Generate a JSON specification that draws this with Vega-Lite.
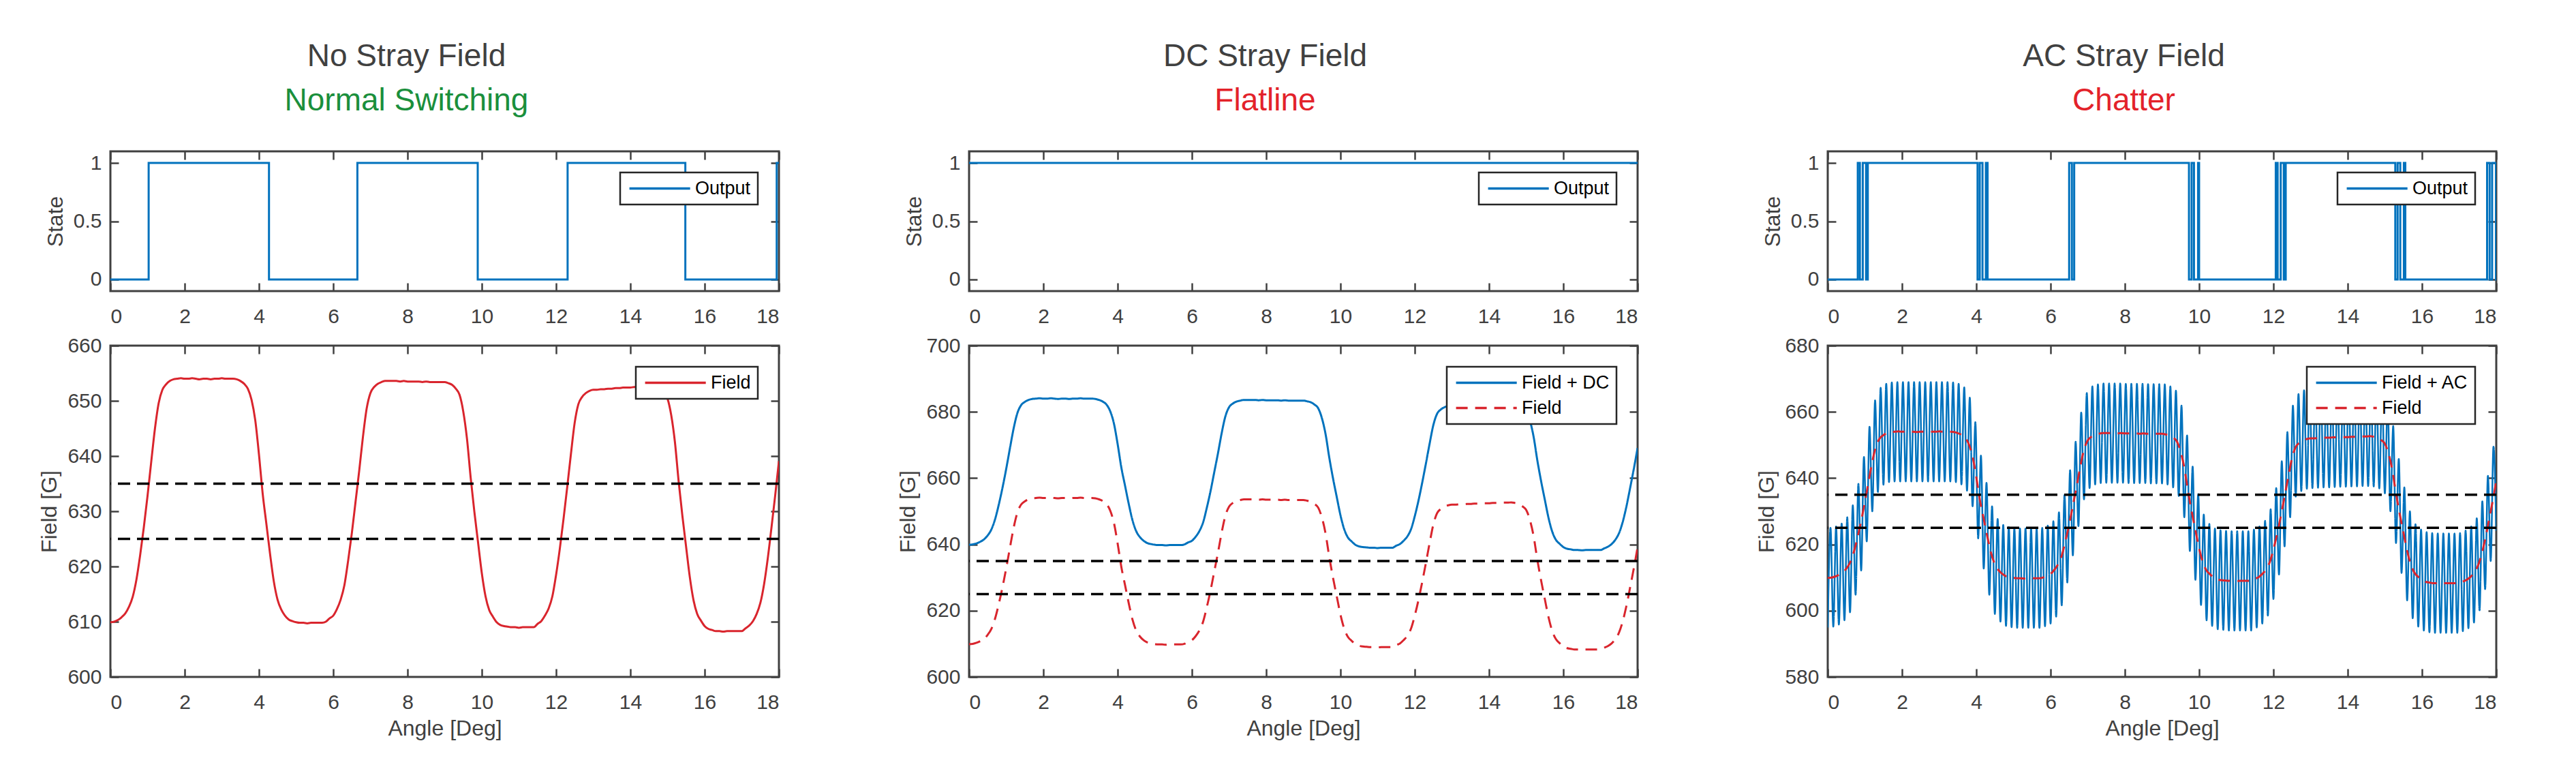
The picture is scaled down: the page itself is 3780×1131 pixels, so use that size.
{
  "$schema": "https://vega.github.io/schema/vega-lite/v6.json",
  "description": "Hall switch output and field vs angle for no, DC and AC stray field.",
  "background": "white",
  "padding": {"left": 55, "top": 58, "right": 10, "bottom": 10},
  "config": {
    "font": "Liberation Sans",
    "view": {"stroke": "#404040", "strokeWidth": 3},
    "axis": {
      "grid": false, "domain": false,
      "tickColor": "#404040", "tickWidth": 2.5, "tickSize": -12,
      "labelFont": "Liberation Sans", "labelFontSize": 30, "labelColor": "#404040",
      "titleFont": "Liberation Sans", "titleFontSize": 32, "titleFontWeight": "normal", "titleColor": "#404040"
    },
    "axisX": {"labelPadding": 34, "titlePadding": 8},
    "axisY": {"labelPadding": 25, "titlePadding": 9},
    "legend": {
      "orient": "top-right", "offset": 31, "padding": 10,
      "fillColor": "white", "strokeColor": "#262626", "strokeWidth": 2.5,
      "symbolType": "M-1,0H8", "symbolSize": 392, "symbolStrokeWidth": 3.5,
      "labelFont": "Liberation Sans", "labelFontSize": 27, "labelColor": "black",
      "labelOffset": 73, "rowPadding": 9, "labelLimit": 0
    },
    "title": {
      "font": "Liberation Sans", "fontSize": 46, "fontWeight": "normal", "color": "#404040",
      "subtitleFont": "Liberation Sans", "subtitleFontSize": 46, "subtitleFontWeight": "normal",
      "subtitlePadding": 19, "anchor": "middle", "frame": "group", "dx": -56, "offset": 49
    }
  },
  "datasets": {
    "thresholds": [{"t": 625}, {"t": 635}],
    "state1": [
      {"x": 0, "state": 0}, {"x": 1.03, "state": 1}, {"x": 4.27, "state": 0}, {"x": 6.65, "state": 1},
      {"x": 9.89, "state": 0}, {"x": 12.31, "state": 1}, {"x": 15.48, "state": 0}, {"x": 17.94, "state": 1},
      {"x": 18, "state": 1}
    ],
    "state2": [{"x": 0, "state": 1}, {"x": 18, "state": 1}],
    "state3": [
      {"x": 0, "state": 0}, {"x": 0.809, "state": 1}, {"x": 0.866, "state": 0}, {"x": 0.943, "state": 1},
      {"x": 1.032, "state": 0}, {"x": 1.079, "state": 1},
      {"x": 4.034, "state": 0}, {"x": 4.093, "state": 1}, {"x": 4.167, "state": 0}, {"x": 4.258, "state": 1},
      {"x": 4.304, "state": 0},
      {"x": 6.5, "state": 1}, {"x": 6.574, "state": 0}, {"x": 6.636, "state": 1},
      {"x": 9.726, "state": 0}, {"x": 9.798, "state": 1}, {"x": 9.861, "state": 0}, {"x": 9.971, "state": 1},
      {"x": 9.999, "state": 0},
      {"x": 12.063, "state": 1}, {"x": 12.114, "state": 0}, {"x": 12.196, "state": 1}, {"x": 12.279, "state": 0},
      {"x": 12.331, "state": 1},
      {"x": 15.281, "state": 0}, {"x": 15.344, "state": 1}, {"x": 15.415, "state": 0}, {"x": 15.512, "state": 1},
      {"x": 15.551, "state": 0},
      {"x": 17.753, "state": 1}, {"x": 17.821, "state": 0}, {"x": 17.888, "state": 1}, {"x": 17.992, "state": 0},
      {"x": 18, "state": 0}
    ],
    "field": [
      {"x": 0.0, "Field": 609.9, "Field + DC": 639.9}, {"x": 0.1, "Field": 610.0, "Field + DC": 640.0},
      {"x": 0.2, "Field": 610.3, "Field + DC": 640.3}, {"x": 0.3, "Field": 610.8, "Field + DC": 640.8},
      {"x": 0.4, "Field": 611.5, "Field + DC": 641.5}, {"x": 0.5, "Field": 612.7, "Field + DC": 642.7},
      {"x": 0.6, "Field": 614.5, "Field + DC": 644.5}, {"x": 0.7, "Field": 617.6, "Field + DC": 647.6},
      {"x": 0.8, "Field": 622.0, "Field + DC": 652.0}, {"x": 0.9, "Field": 627.1, "Field + DC": 657.1},
      {"x": 1.0, "Field": 632.8, "Field + DC": 662.8}, {"x": 1.1, "Field": 639.0, "Field + DC": 669.0},
      {"x": 1.2, "Field": 645.0, "Field + DC": 675.0}, {"x": 1.3, "Field": 649.6, "Field + DC": 679.6},
      {"x": 1.4, "Field": 652.0, "Field + DC": 682.0}, {"x": 1.5, "Field": 653.0, "Field + DC": 683.0},
      {"x": 1.6, "Field": 653.6, "Field + DC": 683.6}, {"x": 1.7, "Field": 653.9, "Field + DC": 683.9},
      {"x": 1.8, "Field": 654.0, "Field + DC": 684.0}, {"x": 1.9, "Field": 654.1, "Field + DC": 684.1},
      {"x": 2.0, "Field": 654.0, "Field + DC": 684.0}, {"x": 2.1, "Field": 654.0, "Field + DC": 684.0},
      {"x": 2.2, "Field": 654.1, "Field + DC": 684.1}, {"x": 2.3, "Field": 654.0, "Field + DC": 684.0},
      {"x": 2.4, "Field": 653.9, "Field + DC": 683.9}, {"x": 2.5, "Field": 654.0, "Field + DC": 684.0},
      {"x": 2.6, "Field": 654.0, "Field + DC": 684.0}, {"x": 2.7, "Field": 653.9, "Field + DC": 683.9},
      {"x": 2.8, "Field": 654.0, "Field + DC": 684.0}, {"x": 2.9, "Field": 654.0, "Field + DC": 684.0},
      {"x": 3.0, "Field": 654.1, "Field + DC": 684.1}, {"x": 3.1, "Field": 654.0, "Field + DC": 684.0},
      {"x": 3.2, "Field": 654.0, "Field + DC": 684.0}, {"x": 3.3, "Field": 654.0, "Field + DC": 684.0},
      {"x": 3.4, "Field": 653.9, "Field + DC": 683.9}, {"x": 3.5, "Field": 653.6, "Field + DC": 683.6},
      {"x": 3.6, "Field": 653.1, "Field + DC": 683.1}, {"x": 3.7, "Field": 652.2, "Field + DC": 682.2},
      {"x": 3.8, "Field": 650.2, "Field + DC": 680.2}, {"x": 3.9, "Field": 646.5, "Field + DC": 676.5},
      {"x": 4.0, "Field": 640.3, "Field + DC": 670.3}, {"x": 4.1, "Field": 633.2, "Field + DC": 663.2},
      {"x": 4.2, "Field": 627.7, "Field + DC": 657.7}, {"x": 4.3, "Field": 622.2, "Field + DC": 652.2},
      {"x": 4.4, "Field": 617.3, "Field + DC": 647.3}, {"x": 4.5, "Field": 614.0, "Field + DC": 644.0},
      {"x": 4.6, "Field": 612.2, "Field + DC": 642.2}, {"x": 4.7, "Field": 611.1, "Field + DC": 641.1},
      {"x": 4.8, "Field": 610.4, "Field + DC": 640.4}, {"x": 4.9, "Field": 610.1, "Field + DC": 640.1},
      {"x": 5.0, "Field": 609.9, "Field + DC": 639.9}, {"x": 5.1, "Field": 609.8, "Field + DC": 639.8},
      {"x": 5.2, "Field": 609.8, "Field + DC": 639.8}, {"x": 5.3, "Field": 609.7, "Field + DC": 639.7},
      {"x": 5.4, "Field": 609.8, "Field + DC": 639.8}, {"x": 5.5, "Field": 609.8, "Field + DC": 639.8},
      {"x": 5.6, "Field": 609.8, "Field + DC": 639.8}, {"x": 5.7, "Field": 609.8, "Field + DC": 639.8},
      {"x": 5.8, "Field": 610.0, "Field + DC": 640.0}, {"x": 5.9, "Field": 610.6, "Field + DC": 640.6},
      {"x": 6.0, "Field": 611.1, "Field + DC": 641.1}, {"x": 6.1, "Field": 612.3, "Field + DC": 642.3},
      {"x": 6.2, "Field": 614.0, "Field + DC": 644.0}, {"x": 6.3, "Field": 616.6, "Field + DC": 646.6},
      {"x": 6.4, "Field": 621.0, "Field + DC": 651.0}, {"x": 6.5, "Field": 626.0, "Field + DC": 656.0},
      {"x": 6.6, "Field": 631.7, "Field + DC": 661.7}, {"x": 6.7, "Field": 637.4, "Field + DC": 667.4},
      {"x": 6.8, "Field": 643.5, "Field + DC": 673.5}, {"x": 6.9, "Field": 648.6, "Field + DC": 678.6},
      {"x": 7.0, "Field": 651.4, "Field + DC": 681.4}, {"x": 7.1, "Field": 652.5, "Field + DC": 682.5},
      {"x": 7.2, "Field": 653.1, "Field + DC": 683.1}, {"x": 7.3, "Field": 653.4, "Field + DC": 683.4},
      {"x": 7.4, "Field": 653.6, "Field + DC": 683.6}, {"x": 7.5, "Field": 653.6, "Field + DC": 683.6},
      {"x": 7.6, "Field": 653.6, "Field + DC": 683.6}, {"x": 7.7, "Field": 653.6, "Field + DC": 683.6},
      {"x": 7.8, "Field": 653.5, "Field + DC": 683.5}, {"x": 7.9, "Field": 653.6, "Field + DC": 683.6},
      {"x": 8.0, "Field": 653.5, "Field + DC": 683.5}, {"x": 8.1, "Field": 653.5, "Field + DC": 683.5},
      {"x": 8.2, "Field": 653.5, "Field + DC": 683.5}, {"x": 8.3, "Field": 653.5, "Field + DC": 683.5},
      {"x": 8.4, "Field": 653.4, "Field + DC": 683.4}, {"x": 8.5, "Field": 653.5, "Field + DC": 683.5},
      {"x": 8.6, "Field": 653.4, "Field + DC": 683.4}, {"x": 8.7, "Field": 653.4, "Field + DC": 683.4},
      {"x": 8.8, "Field": 653.4, "Field + DC": 683.4}, {"x": 8.9, "Field": 653.4, "Field + DC": 683.4},
      {"x": 9.0, "Field": 653.4, "Field + DC": 683.4}, {"x": 9.1, "Field": 653.2, "Field + DC": 683.2},
      {"x": 9.2, "Field": 652.9, "Field + DC": 682.9}, {"x": 9.3, "Field": 652.2, "Field + DC": 682.2},
      {"x": 9.4, "Field": 651.1, "Field + DC": 681.1}, {"x": 9.5, "Field": 648.1, "Field + DC": 678.1},
      {"x": 9.6, "Field": 643.2, "Field + DC": 673.2}, {"x": 9.7, "Field": 636.1, "Field + DC": 666.1},
      {"x": 9.8, "Field": 629.9, "Field + DC": 659.9}, {"x": 9.9, "Field": 624.3, "Field + DC": 654.3},
      {"x": 10.0, "Field": 618.8, "Field + DC": 648.8}, {"x": 10.1, "Field": 614.6, "Field + DC": 644.6},
      {"x": 10.2, "Field": 612.1, "Field + DC": 642.1}, {"x": 10.3, "Field": 610.9, "Field + DC": 640.9},
      {"x": 10.4, "Field": 609.9, "Field + DC": 639.9}, {"x": 10.5, "Field": 609.4, "Field + DC": 639.4},
      {"x": 10.6, "Field": 609.2, "Field + DC": 639.2}, {"x": 10.7, "Field": 609.1, "Field + DC": 639.1},
      {"x": 10.8, "Field": 609.0, "Field + DC": 639.0}, {"x": 10.9, "Field": 609.0, "Field + DC": 639.0},
      {"x": 11.0, "Field": 608.9, "Field + DC": 638.9}, {"x": 11.1, "Field": 609.0, "Field + DC": 639.0},
      {"x": 11.2, "Field": 609.0, "Field + DC": 639.0}, {"x": 11.3, "Field": 609.0, "Field + DC": 639.0},
      {"x": 11.4, "Field": 609.0, "Field + DC": 639.0}, {"x": 11.5, "Field": 609.6, "Field + DC": 639.6},
      {"x": 11.6, "Field": 610.1, "Field + DC": 640.1}, {"x": 11.7, "Field": 611.1, "Field + DC": 641.1},
      {"x": 11.8, "Field": 612.4, "Field + DC": 642.4}, {"x": 11.9, "Field": 614.6, "Field + DC": 644.6},
      {"x": 12.0, "Field": 618.5, "Field + DC": 648.5}, {"x": 12.1, "Field": 623.2, "Field + DC": 653.2},
      {"x": 12.2, "Field": 628.6, "Field + DC": 658.6}, {"x": 12.3, "Field": 634.4, "Field + DC": 664.4},
      {"x": 12.4, "Field": 640.4, "Field + DC": 670.4}, {"x": 12.5, "Field": 646.0, "Field + DC": 676.0},
      {"x": 12.6, "Field": 649.4, "Field + DC": 679.4}, {"x": 12.7, "Field": 650.7, "Field + DC": 680.7},
      {"x": 12.8, "Field": 651.4, "Field + DC": 681.4}, {"x": 12.9, "Field": 651.8, "Field + DC": 681.8},
      {"x": 13.0, "Field": 652.0, "Field + DC": 682.0}, {"x": 13.1, "Field": 652.0, "Field + DC": 682.0},
      {"x": 13.2, "Field": 652.1, "Field + DC": 682.1}, {"x": 13.3, "Field": 652.1, "Field + DC": 682.1},
      {"x": 13.4, "Field": 652.2, "Field + DC": 682.2}, {"x": 13.5, "Field": 652.2, "Field + DC": 682.2},
      {"x": 13.6, "Field": 652.3, "Field + DC": 682.3}, {"x": 13.7, "Field": 652.3, "Field + DC": 682.3},
      {"x": 13.8, "Field": 652.4, "Field + DC": 682.4}, {"x": 13.9, "Field": 652.4, "Field + DC": 682.4},
      {"x": 14.0, "Field": 652.4, "Field + DC": 682.4}, {"x": 14.1, "Field": 652.5, "Field + DC": 682.5},
      {"x": 14.2, "Field": 652.5, "Field + DC": 682.5}, {"x": 14.3, "Field": 652.6, "Field + DC": 682.6},
      {"x": 14.4, "Field": 652.6, "Field + DC": 682.6}, {"x": 14.5, "Field": 652.6, "Field + DC": 682.6},
      {"x": 14.6, "Field": 652.7, "Field + DC": 682.7}, {"x": 14.7, "Field": 652.5, "Field + DC": 682.5},
      {"x": 14.8, "Field": 652.2, "Field + DC": 682.2}, {"x": 14.9, "Field": 651.5, "Field + DC": 681.5},
      {"x": 15.0, "Field": 650.4, "Field + DC": 680.4}, {"x": 15.1, "Field": 647.4, "Field + DC": 677.4},
      {"x": 15.2, "Field": 642.5, "Field + DC": 672.5}, {"x": 15.3, "Field": 635.4, "Field + DC": 665.4},
      {"x": 15.4, "Field": 629.2, "Field + DC": 659.2}, {"x": 15.5, "Field": 623.6, "Field + DC": 653.6},
      {"x": 15.6, "Field": 618.1, "Field + DC": 648.1}, {"x": 15.7, "Field": 613.9, "Field + DC": 643.9},
      {"x": 15.8, "Field": 611.4, "Field + DC": 641.4}, {"x": 15.9, "Field": 610.2, "Field + DC": 640.2},
      {"x": 16.0, "Field": 609.2, "Field + DC": 639.2}, {"x": 16.1, "Field": 608.7, "Field + DC": 638.7},
      {"x": 16.2, "Field": 608.5, "Field + DC": 638.5}, {"x": 16.3, "Field": 608.3, "Field + DC": 638.3},
      {"x": 16.4, "Field": 608.3, "Field + DC": 638.3}, {"x": 16.5, "Field": 608.2, "Field + DC": 638.2},
      {"x": 16.6, "Field": 608.3, "Field + DC": 638.3}, {"x": 16.7, "Field": 608.3, "Field + DC": 638.3},
      {"x": 16.8, "Field": 608.3, "Field + DC": 638.3}, {"x": 16.9, "Field": 608.3, "Field + DC": 638.3},
      {"x": 17.0, "Field": 608.3, "Field + DC": 638.3}, {"x": 17.1, "Field": 608.8, "Field + DC": 638.8},
      {"x": 17.2, "Field": 609.3, "Field + DC": 639.3}, {"x": 17.3, "Field": 610.1, "Field + DC": 640.1},
      {"x": 17.4, "Field": 611.4, "Field + DC": 641.4}, {"x": 17.5, "Field": 613.4, "Field + DC": 643.4},
      {"x": 17.6, "Field": 616.8, "Field + DC": 646.8}, {"x": 17.7, "Field": 621.5, "Field + DC": 651.5},
      {"x": 17.8, "Field": 627.1, "Field + DC": 657.1}, {"x": 17.9, "Field": 632.9, "Field + DC": 662.9},
      {"x": 18.0, "Field": 639.1, "Field + DC": 669.1}
    ],
    "ac": [
      {"x": 0, "Field + AC": 594.9}, {"x": 0.075, "Field + AC": 625.0}, {"x": 0.15, "Field + AC": 595.2}, {"x": 0.225, "Field + AC": 625.4},
      {"x": 0.3, "Field + AC": 595.8}, {"x": 0.375, "Field + AC": 626.3}, {"x": 0.45, "Field + AC": 597.1}, {"x": 0.525, "Field + AC": 628.2},
      {"x": 0.6, "Field + AC": 599.5}, {"x": 0.675, "Field + AC": 631.8}, {"x": 0.75, "Field + AC": 604.8}, {"x": 0.825, "Field + AC": 638.3},
      {"x": 0.9, "Field + AC": 612.1}, {"x": 0.975, "Field + AC": 646.4}, {"x": 1.05, "Field + AC": 620.9}, {"x": 1.125, "Field + AC": 655.5},
      {"x": 1.2, "Field + AC": 630.0}, {"x": 1.275, "Field + AC": 663.5}, {"x": 1.35, "Field + AC": 635.8}, {"x": 1.425, "Field + AC": 667.3},
      {"x": 1.5, "Field + AC": 638.0}, {"x": 1.575, "Field + AC": 668.5}, {"x": 1.65, "Field + AC": 638.8}, {"x": 1.725, "Field + AC": 668.9},
      {"x": 1.8, "Field + AC": 639.0}, {"x": 1.875, "Field + AC": 669.0}, {"x": 1.95, "Field + AC": 639.0}, {"x": 2.025, "Field + AC": 669.0},
      {"x": 2.1, "Field + AC": 639.0}, {"x": 2.175, "Field + AC": 669.0}, {"x": 2.25, "Field + AC": 639.0}, {"x": 2.325, "Field + AC": 669.0},
      {"x": 2.4, "Field + AC": 639.0}, {"x": 2.475, "Field + AC": 669.0}, {"x": 2.55, "Field + AC": 639.0}, {"x": 2.625, "Field + AC": 669.0},
      {"x": 2.7, "Field + AC": 639.0}, {"x": 2.775, "Field + AC": 669.0}, {"x": 2.85, "Field + AC": 639.0}, {"x": 2.925, "Field + AC": 669.0},
      {"x": 3.0, "Field + AC": 639.0}, {"x": 3.075, "Field + AC": 669.0}, {"x": 3.15, "Field + AC": 639.0}, {"x": 3.225, "Field + AC": 669.0},
      {"x": 3.3, "Field + AC": 639.0}, {"x": 3.375, "Field + AC": 668.9}, {"x": 3.45, "Field + AC": 638.8}, {"x": 3.525, "Field + AC": 668.5},
      {"x": 3.6, "Field + AC": 638.1}, {"x": 3.675, "Field + AC": 667.4}, {"x": 3.75, "Field + AC": 636.2}, {"x": 3.825, "Field + AC": 664.3},
      {"x": 3.9, "Field + AC": 631.5}, {"x": 3.975, "Field + AC": 656.9}, {"x": 4.05, "Field + AC": 621.8}, {"x": 4.125, "Field + AC": 646.8},
      {"x": 4.2, "Field + AC": 612.7}, {"x": 4.275, "Field + AC": 638.6}, {"x": 4.35, "Field + AC": 604.8}, {"x": 4.425, "Field + AC": 631.5},
      {"x": 4.5, "Field + AC": 599.0}, {"x": 4.575, "Field + AC": 627.7}, {"x": 4.65, "Field + AC": 596.7}, {"x": 4.725, "Field + AC": 625.9},
      {"x": 4.8, "Field + AC": 595.4}, {"x": 4.875, "Field + AC": 625.2}, {"x": 4.95, "Field + AC": 595.0}, {"x": 5.025, "Field + AC": 624.9},
      {"x": 5.1, "Field + AC": 594.8}, {"x": 5.175, "Field + AC": 624.8}, {"x": 5.25, "Field + AC": 594.8}, {"x": 5.325, "Field + AC": 624.8},
      {"x": 5.4, "Field + AC": 594.8}, {"x": 5.475, "Field + AC": 624.8}, {"x": 5.55, "Field + AC": 594.8}, {"x": 5.625, "Field + AC": 624.8},
      {"x": 5.7, "Field + AC": 594.8}, {"x": 5.775, "Field + AC": 625.0}, {"x": 5.85, "Field + AC": 595.3}, {"x": 5.925, "Field + AC": 625.7},
      {"x": 6.0, "Field + AC": 596.1}, {"x": 6.075, "Field + AC": 627.0}, {"x": 6.15, "Field + AC": 598.2}, {"x": 6.225, "Field + AC": 629.7},
      {"x": 6.3, "Field + AC": 601.6}, {"x": 6.375, "Field + AC": 634.9}, {"x": 6.45, "Field + AC": 608.5}, {"x": 6.525, "Field + AC": 642.4},
      {"x": 6.6, "Field + AC": 616.7}, {"x": 6.675, "Field + AC": 651.0}, {"x": 6.75, "Field + AC": 625.5}, {"x": 6.825, "Field + AC": 659.8},
      {"x": 6.9, "Field + AC": 633.6}, {"x": 6.975, "Field + AC": 665.7}, {"x": 7.05, "Field + AC": 637.0}, {"x": 7.125, "Field + AC": 667.7},
      {"x": 7.2, "Field + AC": 638.1}, {"x": 7.275, "Field + AC": 668.3}, {"x": 7.35, "Field + AC": 638.5}, {"x": 7.425, "Field + AC": 668.6},
      {"x": 7.5, "Field + AC": 638.6}, {"x": 7.575, "Field + AC": 668.6}, {"x": 7.65, "Field + AC": 638.6}, {"x": 7.725, "Field + AC": 668.6},
      {"x": 7.8, "Field + AC": 638.6}, {"x": 7.875, "Field + AC": 668.6}, {"x": 7.95, "Field + AC": 638.6}, {"x": 8.025, "Field + AC": 668.5},
      {"x": 8.1, "Field + AC": 638.5}, {"x": 8.175, "Field + AC": 668.5}, {"x": 8.25, "Field + AC": 638.5}, {"x": 8.325, "Field + AC": 668.5},
      {"x": 8.4, "Field + AC": 638.5}, {"x": 8.475, "Field + AC": 668.5}, {"x": 8.55, "Field + AC": 638.5}, {"x": 8.625, "Field + AC": 668.4},
      {"x": 8.7, "Field + AC": 638.4}, {"x": 8.775, "Field + AC": 668.4}, {"x": 8.85, "Field + AC": 638.4}, {"x": 8.925, "Field + AC": 668.4},
      {"x": 9.0, "Field + AC": 638.4}, {"x": 9.075, "Field + AC": 668.3}, {"x": 9.15, "Field + AC": 638.1}, {"x": 9.225, "Field + AC": 667.7},
      {"x": 9.3, "Field + AC": 637.2}, {"x": 9.375, "Field + AC": 666.4}, {"x": 9.45, "Field + AC": 634.6}, {"x": 9.525, "Field + AC": 661.9},
      {"x": 9.6, "Field + AC": 628.2}, {"x": 9.675, "Field + AC": 652.9}, {"x": 9.75, "Field + AC": 618.0}, {"x": 9.825, "Field + AC": 643.5},
      {"x": 9.9, "Field + AC": 609.3}, {"x": 9.975, "Field + AC": 635.2}, {"x": 10.05, "Field + AC": 601.7}, {"x": 10.125, "Field + AC": 629.0},
      {"x": 10.2, "Field + AC": 597.1}, {"x": 10.275, "Field + AC": 626.2}, {"x": 10.35, "Field + AC": 595.4}, {"x": 10.425, "Field + AC": 624.8},
      {"x": 10.5, "Field + AC": 594.4}, {"x": 10.575, "Field + AC": 624.3}, {"x": 10.65, "Field + AC": 594.2}, {"x": 10.725, "Field + AC": 624.1},
      {"x": 10.8, "Field + AC": 594.0}, {"x": 10.875, "Field + AC": 624.0}, {"x": 10.95, "Field + AC": 594.0}, {"x": 11.025, "Field + AC": 624.0},
      {"x": 11.1, "Field + AC": 594.0}, {"x": 11.175, "Field + AC": 624.0}, {"x": 11.25, "Field + AC": 594.0}, {"x": 11.325, "Field + AC": 624.0},
      {"x": 11.4, "Field + AC": 594.0}, {"x": 11.475, "Field + AC": 624.5}, {"x": 11.55, "Field + AC": 594.9}, {"x": 11.625, "Field + AC": 625.4},
      {"x": 11.7, "Field + AC": 596.1}, {"x": 11.775, "Field + AC": 627.1}, {"x": 11.85, "Field + AC": 598.5}, {"x": 11.925, "Field + AC": 630.6},
      {"x": 12.0, "Field + AC": 603.5}, {"x": 12.075, "Field + AC": 637.0}, {"x": 12.15, "Field + AC": 610.9}, {"x": 12.225, "Field + AC": 645.1},
      {"x": 12.3, "Field + AC": 619.4}, {"x": 12.375, "Field + AC": 653.9}, {"x": 12.45, "Field + AC": 628.2}, {"x": 12.525, "Field + AC": 661.9},
      {"x": 12.6, "Field + AC": 634.4}, {"x": 12.675, "Field + AC": 665.4}, {"x": 12.75, "Field + AC": 636.1}, {"x": 12.825, "Field + AC": 666.5},
      {"x": 12.9, "Field + AC": 636.8}, {"x": 12.975, "Field + AC": 667.0}, {"x": 13.05, "Field + AC": 637.0}, {"x": 13.125, "Field + AC": 667.1},
      {"x": 13.2, "Field + AC": 637.1}, {"x": 13.275, "Field + AC": 667.1}, {"x": 13.35, "Field + AC": 637.2}, {"x": 13.425, "Field + AC": 667.2},
      {"x": 13.5, "Field + AC": 637.2}, {"x": 13.575, "Field + AC": 667.3}, {"x": 13.65, "Field + AC": 637.3}, {"x": 13.725, "Field + AC": 667.3},
      {"x": 13.8, "Field + AC": 637.4}, {"x": 13.875, "Field + AC": 667.4}, {"x": 13.95, "Field + AC": 637.4}, {"x": 14.025, "Field + AC": 667.4},
      {"x": 14.1, "Field + AC": 637.5}, {"x": 14.175, "Field + AC": 667.5}, {"x": 14.25, "Field + AC": 637.5}, {"x": 14.325, "Field + AC": 667.6},
      {"x": 14.4, "Field + AC": 637.6}, {"x": 14.475, "Field + AC": 667.6}, {"x": 14.55, "Field + AC": 637.6}, {"x": 14.625, "Field + AC": 667.6},
      {"x": 14.7, "Field + AC": 637.5}, {"x": 14.775, "Field + AC": 667.3}, {"x": 14.85, "Field + AC": 636.9}, {"x": 14.925, "Field + AC": 666.2},
      {"x": 15.0, "Field + AC": 635.4}, {"x": 15.075, "Field + AC": 663.2}, {"x": 15.15, "Field + AC": 630.0}, {"x": 15.225, "Field + AC": 655.7},
      {"x": 15.3, "Field + AC": 620.4}, {"x": 15.375, "Field + AC": 645.8}, {"x": 15.45, "Field + AC": 611.4}, {"x": 15.525, "Field + AC": 637.2},
      {"x": 15.6, "Field + AC": 603.1}, {"x": 15.675, "Field + AC": 630.0}, {"x": 15.75, "Field + AC": 597.7}, {"x": 15.825, "Field + AC": 626.1},
      {"x": 15.9, "Field + AC": 595.2}, {"x": 15.975, "Field + AC": 624.5}, {"x": 16.05, "Field + AC": 594.0}, {"x": 16.125, "Field + AC": 623.7},
      {"x": 16.2, "Field + AC": 593.5}, {"x": 16.275, "Field + AC": 623.4}, {"x": 16.35, "Field + AC": 593.3}, {"x": 16.425, "Field + AC": 623.3},
      {"x": 16.5, "Field + AC": 593.3}, {"x": 16.575, "Field + AC": 623.3}, {"x": 16.65, "Field + AC": 593.3}, {"x": 16.725, "Field + AC": 623.3},
      {"x": 16.8, "Field + AC": 593.3}, {"x": 16.875, "Field + AC": 623.3}, {"x": 16.95, "Field + AC": 593.3}, {"x": 17.025, "Field + AC": 623.4},
      {"x": 17.1, "Field + AC": 593.8}, {"x": 17.175, "Field + AC": 624.2}, {"x": 17.25, "Field + AC": 594.7}, {"x": 17.325, "Field + AC": 625.4},
      {"x": 17.4, "Field + AC": 596.4}, {"x": 17.475, "Field + AC": 627.9}, {"x": 17.55, "Field + AC": 600.1}, {"x": 17.625, "Field + AC": 633.0},
      {"x": 17.7, "Field + AC": 606.5}, {"x": 17.775, "Field + AC": 640.7}, {"x": 17.85, "Field + AC": 615.0}, {"x": 17.925, "Field + AC": 649.5},
      {"x": 18.0, "Field + AC": 624.1}
    ]
  },
  "concat": [
    {
      "width": 981, "height": 205,
      "title": {"text": "No Stray Field", "subtitle": "Normal Switching", "subtitleColor": "#1a8f3c"},
      "data": {"name": "state1"},
      "layer": [
        {
          "mark": {"type": "line", "interpolate": "step-after", "strokeWidth": 3, "clip": true},
          "encoding": {
            "x": {"field": "x", "type": "quantitative", "scale": {"domain": [0, 18], "nice": false, "zero": false}, "axis": {"values": [0, 2, 4, 6, 8, 10, 12, 14, 16, 18], "title": null}},
            "y": {"field": "state", "type": "quantitative", "scale": {"domain": [-0.1, 1.1], "nice": false, "zero": false}, "axis": {"values": [0, 0.5, 1], "format": "~g", "title": "State"}},
            "color": {"datum": "Output", "scale": {"range": ["#0072BD"]}, "legend": {"title": null}}
          }
        },
        {
          "mark": {"type": "point", "opacity": 0},
          "encoding": {
            "x": {"datum": 9, "type": "quantitative", "axis": {"orient": "top", "values": [0, 2, 4, 6, 8, 10, 12, 14, 16, 18], "labels": false, "title": null}},
            "y": {"datum": 0.5, "type": "quantitative", "axis": {"orient": "right", "values": [0, 0.5, 1], "labels": false, "title": null}}
          }
        }
      ],
      "resolve": {"axis": {"x": "independent", "y": "independent"}}
    },
    {
      "width": 981, "height": 205,
      "title": {"text": "DC Stray Field", "subtitle": "Flatline", "subtitleColor": "#e3222a"},
      "data": {"name": "state2"},
      "layer": [
        {
          "mark": {"type": "line", "interpolate": "step-after", "strokeWidth": 3, "clip": true},
          "encoding": {
            "x": {"field": "x", "type": "quantitative", "scale": {"domain": [0, 18], "nice": false, "zero": false}, "axis": {"values": [0, 2, 4, 6, 8, 10, 12, 14, 16, 18], "title": null}},
            "y": {"field": "state", "type": "quantitative", "scale": {"domain": [-0.1, 1.1], "nice": false, "zero": false}, "axis": {"values": [0, 0.5, 1], "format": "~g", "title": "State"}},
            "color": {"datum": "Output", "scale": {"range": ["#0072BD"]}, "legend": {"title": null}}
          }
        },
        {
          "mark": {"type": "point", "opacity": 0},
          "encoding": {
            "x": {"datum": 9, "type": "quantitative", "axis": {"orient": "top", "values": [0, 2, 4, 6, 8, 10, 12, 14, 16, 18], "labels": false, "title": null}},
            "y": {"datum": 0.5, "type": "quantitative", "axis": {"orient": "right", "values": [0, 0.5, 1], "labels": false, "title": null}}
          }
        }
      ],
      "resolve": {"axis": {"x": "independent", "y": "independent"}}
    },
    {
      "width": 981, "height": 205,
      "title": {"text": "AC Stray Field", "subtitle": "Chatter", "subtitleColor": "#e3222a"},
      "data": {"name": "state3"},
      "layer": [
        {
          "mark": {"type": "line", "interpolate": "step-after", "strokeWidth": 3, "clip": true},
          "encoding": {
            "x": {"field": "x", "type": "quantitative", "scale": {"domain": [0, 18], "nice": false, "zero": false}, "axis": {"values": [0, 2, 4, 6, 8, 10, 12, 14, 16, 18], "title": null}},
            "y": {"field": "state", "type": "quantitative", "scale": {"domain": [-0.1, 1.1], "nice": false, "zero": false}, "axis": {"values": [0, 0.5, 1], "format": "~g", "title": "State"}},
            "color": {"datum": "Output", "scale": {"range": ["#0072BD"]}, "legend": {"title": null}}
          }
        },
        {
          "mark": {"type": "point", "opacity": 0},
          "encoding": {
            "x": {"datum": 9, "type": "quantitative", "axis": {"orient": "top", "values": [0, 2, 4, 6, 8, 10, 12, 14, 16, 18], "labels": false, "title": null}},
            "y": {"datum": 0.5, "type": "quantitative", "axis": {"orient": "right", "values": [0, 0.5, 1], "labels": false, "title": null}}
          }
        }
      ],
      "resolve": {"axis": {"x": "independent", "y": "independent"}}
    },
    {
      "width": 981, "height": 486,
      "layer": [
        {
          "data": {"name": "field"},
          "mark": {"type": "line", "interpolate": "monotone", "strokeWidth": 3, "clip": true},
          "encoding": {
            "x": {"field": "x", "type": "quantitative", "scale": {"domain": [0, 18], "nice": false, "zero": false}, "axis": {"values": [0, 2, 4, 6, 8, 10, 12, 14, 16, 18], "title": "Angle [Deg]"}},
            "y": {"field": "Field", "type": "quantitative", "scale": {"domain": [600, 660], "nice": false, "zero": false}, "axis": {"values": [600, 610, 620, 630, 640, 650, 660], "title": "Field [G]"}},
            "color": {"datum": "Field", "scale": {"range": ["#d9252d"]}, "legend": {"title": null}}
          }
        },
        {
          "data": {"name": "thresholds"},
          "mark": {"type": "rule", "strokeDash": [18, 10], "strokeWidth": 3.5, "color": "black"},
          "encoding": {"y": {"field": "t", "type": "quantitative", "axis": null}}
        },
        {
          "data": {"name": "thresholds"},
          "mark": {"type": "point", "opacity": 0},
          "encoding": {
            "x": {"datum": 9, "type": "quantitative", "axis": {"orient": "top", "values": [0, 2, 4, 6, 8, 10, 12, 14, 16, 18], "labels": false, "title": null}},
            "y": {"datum": 630, "type": "quantitative", "axis": {"orient": "right", "values": [600, 610, 620, 630, 640, 650, 660], "labels": false, "title": null}}
          }
        }
      ],
      "resolve": {"axis": {"x": "independent", "y": "independent"}}
    },
    {
      "width": 981, "height": 486,
      "layer": [
        {
          "data": {"name": "field"},
          "transform": [{"fold": ["Field + DC", "Field"], "as": ["series", "value"]}],
          "mark": {"type": "line", "interpolate": "monotone", "strokeWidth": 3, "clip": true},
          "encoding": {
            "x": {"field": "x", "type": "quantitative", "scale": {"domain": [0, 18], "nice": false, "zero": false}, "axis": {"values": [0, 2, 4, 6, 8, 10, 12, 14, 16, 18], "title": "Angle [Deg]"}},
            "y": {"field": "value", "type": "quantitative", "scale": {"domain": [600, 700], "nice": false, "zero": false}, "axis": {"values": [600, 620, 640, 660, 680, 700], "title": "Field [G]"}},
            "color": {"field": "series", "type": "nominal", "scale": {"domain": ["Field + DC", "Field"], "range": ["#0072BD", "#d9252d"]}, "legend": {"title": null}},
            "strokeDash": {"field": "series", "type": "nominal", "scale": {"domain": ["Field + DC", "Field"], "range": [[1, 0], [17, 11]]}, "legend": {"title": null}}
          }
        },
        {
          "data": {"name": "thresholds"},
          "mark": {"type": "rule", "strokeDash": [18, 10], "strokeWidth": 3.5, "color": "black"},
          "encoding": {"y": {"field": "t", "type": "quantitative", "axis": null}}
        },
        {
          "data": {"name": "thresholds"},
          "mark": {"type": "point", "opacity": 0},
          "encoding": {
            "x": {"datum": 9, "type": "quantitative", "axis": {"orient": "top", "values": [0, 2, 4, 6, 8, 10, 12, 14, 16, 18], "labels": false, "title": null}},
            "y": {"datum": 650, "type": "quantitative", "axis": {"orient": "right", "values": [600, 620, 640, 660, 680, 700], "labels": false, "title": null}}
          }
        }
      ],
      "resolve": {"axis": {"x": "independent", "y": "independent"}}
    },
    {
      "width": 981, "height": 486,
      "layer": [
        {
          "data": {"name": "ac"},
          "transform": [{"fold": ["Field + AC"], "as": ["series", "value"]}],
          "mark": {"type": "line", "interpolate": "monotone", "strokeWidth": 2.5, "clip": true},
          "encoding": {
            "x": {"field": "x", "type": "quantitative", "scale": {"domain": [0, 18], "nice": false, "zero": false}, "axis": {"values": [0, 2, 4, 6, 8, 10, 12, 14, 16, 18], "title": "Angle [Deg]"}},
            "y": {"field": "value", "type": "quantitative", "scale": {"domain": [580, 680], "nice": false, "zero": false}, "axis": {"values": [580, 600, 620, 640, 660, 680], "title": "Field [G]"}},
            "color": {"field": "series", "type": "nominal", "scale": {"domain": ["Field + AC", "Field"], "range": ["#0072BD", "#d9252d"]}, "legend": {"title": null}},
            "strokeDash": {"field": "series", "type": "nominal", "scale": {"domain": ["Field + AC", "Field"], "range": [[1, 0], [17, 11]]}, "legend": {"title": null}}
          }
        },
        {
          "data": {"name": "field"},
          "transform": [{"fold": ["Field"], "as": ["series", "value"]}],
          "mark": {"type": "line", "interpolate": "monotone", "strokeWidth": 3, "clip": true},
          "encoding": {
            "x": {"field": "x", "type": "quantitative", "axis": null},
            "y": {"field": "value", "type": "quantitative", "axis": null},
            "color": {"field": "series", "type": "nominal", "legend": {"title": null}},
            "strokeDash": {"field": "series", "type": "nominal", "legend": {"title": null}}
          }
        },
        {
          "data": {"name": "thresholds"},
          "mark": {"type": "rule", "strokeDash": [18, 10], "strokeWidth": 3.5, "color": "black"},
          "encoding": {"y": {"field": "t", "type": "quantitative", "axis": null}}
        },
        {
          "data": {"name": "thresholds"},
          "mark": {"type": "point", "opacity": 0},
          "encoding": {
            "x": {"datum": 9, "type": "quantitative", "axis": {"orient": "top", "values": [0, 2, 4, 6, 8, 10, 12, 14, 16, 18], "labels": false, "title": null}},
            "y": {"datum": 630, "type": "quantitative", "axis": {"orient": "right", "values": [580, 600, 620, 640, 660, 680], "labels": false, "title": null}}
          }
        }
      ],
      "resolve": {"axis": {"x": "independent", "y": "independent"}}
    }
  ],
  "columns": 3,
  "spacing": {"row": 80, "column": 279},
  "bounds": "flush",
  "resolve": {"scale": {"color": "independent", "strokeDash": "independent"}}
}
